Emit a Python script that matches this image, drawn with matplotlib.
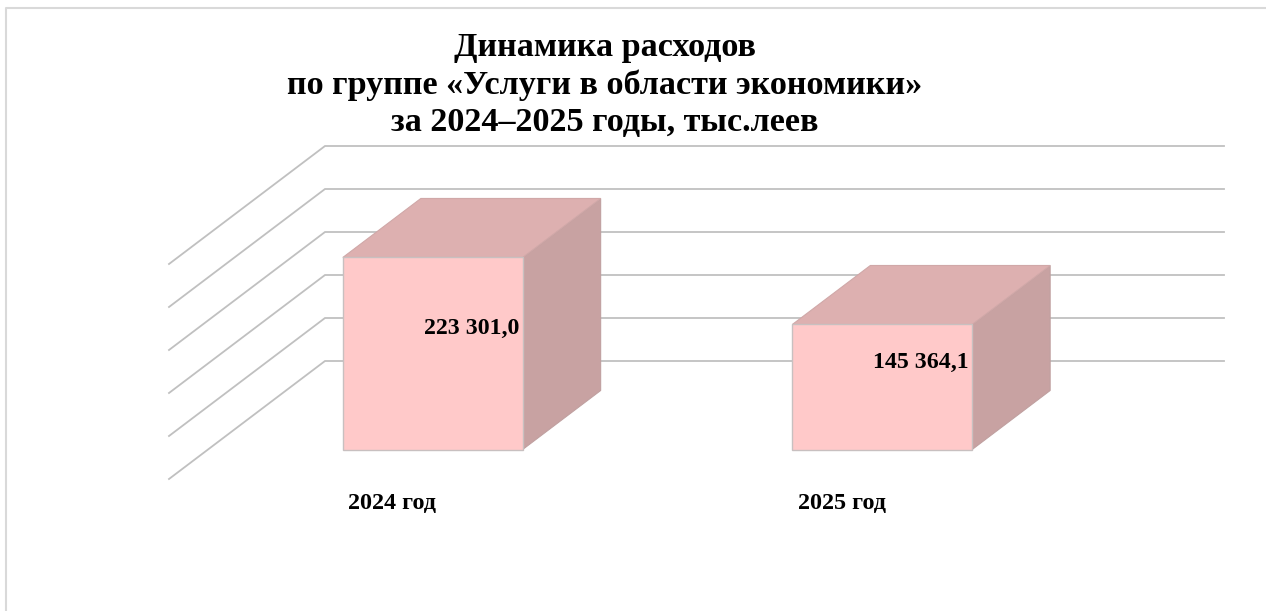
import matplotlib
matplotlib.use("Agg")
import matplotlib.pyplot as plt
from matplotlib.patches import Polygon

plt.rcParams['font.family'] = ['Liberation Serif', 'DejaVu Serif']

categories = ["2024 год", "2025 год"]
values = [223301.0, 145364.1]
value_labels = ["223 301,0", "145 364,1"]
grid_values = [0, 50000, 100000, 150000, 200000, 250000]
title = "Динамика расходов\nпо группе «Услуги в области экономики»\nза 2024–2025 годы, тыс.леев"

W, H = 1266, 611
# pixel sizes of the chart box
cat_px = 449.5
val_px = 43.0 / 50000
depth_dx = 156 / cat_px
depth_dy = 118 / val_px
left_px, floor_px = 169, 479

fig = plt.figure(figsize=(W / 100, H / 100), dpi=100)
ax = fig.add_axes([0, 0, 1, 1])
ax.set_xlim(-left_px / cat_px, (W - left_px) / cat_px)
ax.set_ylim(-(H - floor_px) / val_px, floor_px / val_px)
ax.axis("off")


def project(x, v, d):
    # oblique projection, d=0 is front of the box, d=1 the back wall
    return x + d * depth_dx, v + d * depth_dy


# gridlines on side wall and back wall
for v in grid_values:
    pts = [project(0, v, 0), project(0, v, 1), project(2, v, 1)]
    ax.plot([p[0] for p in pts], [p[1] for p in pts], color="#c0c0c0", lw=1.3,
            solid_joinstyle="miter", zorder=1)

# 3d bars
bar_w = 0.4
d0, d1 = 0.25, 0.75
for i, val in enumerate(values):
    xa = i + 0.5 - bar_w / 2
    xb = i + 0.5 + bar_w / 2
    front = [project(xa, 0, d0), project(xb, 0, d0), project(xb, val, d0), project(xa, val, d0)]
    side = [project(xb, 0, d0), project(xb, 0, d1), project(xb, val, d1), project(xb, val, d0)]
    top = [project(xa, val, d0), project(xb, val, d0), project(xb, val, d1), project(xa, val, d1)]
    ax.add_patch(Polygon(side, closed=True, fc="#c8a2a2", ec="#c0a0a0", lw=0.8, zorder=2))
    ax.add_patch(Polygon(top, closed=True, fc="#ddb0b0", ec="#d0a8a8", lw=0.8, zorder=2))
    ax.add_patch(Polygon(front, closed=True, fc="#ffc9c9", ec="#c8c0c0", lw=1.0, zorder=3))
    tx = project(xb, val / 2, d0)[0]
    ty = project(xb, val / 2, 0.5)[1]
    ax.annotate(value_labels[i], (tx, ty), xytext=(-3.5, -4.5), textcoords="offset pixels",
                ha="right", va="center", fontsize=17.2, fontweight="bold", zorder=4)
    lx, ly = project(xa, 0, d0)
    ax.annotate(categories[i], (lx, ly), xytext=(5.5, -54), textcoords="offset pixels",
                ha="left", va="center", fontsize=17.4, fontweight="bold", zorder=4)

fig.text(604.5 / W, 1 - 85 / H, title, ha="center", va="center", fontsize=24.6,
         fontweight="bold", linespacing=1.25)

# chart frame, open on the right and the bottom
fig.add_artist(plt.Line2D([6 / W, 6 / W, 1], [0, 1 - 8 / H, 1 - 8 / H], color="#d9d9d9", lw=1.5))

fig.savefig("out.png", dpi=100)
